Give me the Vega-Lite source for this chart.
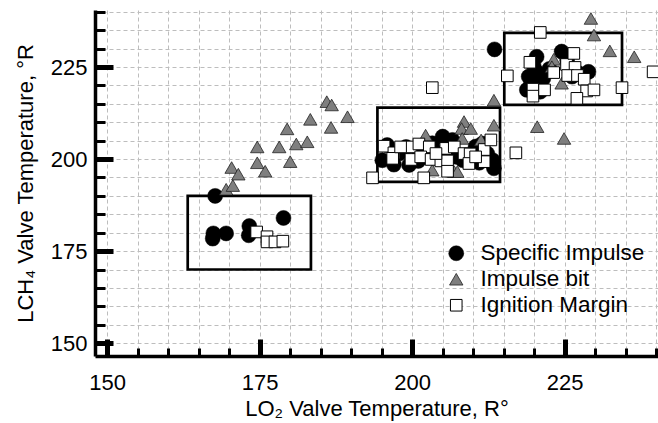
{
  "$schema": "https://vega.github.io/schema/vega-lite/v6.json",
  "width": 563,
  "height": 346,
  "autosize": "none",
  "padding": {"left": 95, "top": 10, "right": 0, "bottom": 67},
  "background": "white",
  "config": {"view": {"stroke": null}, "font": "Liberation Sans"},
  "datasets": {
    "boxes": [
      {"x1": 163.2, "x2": 183.4, "y1": 170, "y2": 190},
      {"x1": 194.3, "x2": 214.4, "y1": 193.8, "y2": 214},
      {"x1": 215.1, "x2": 234.4, "y1": 214.7, "y2": 234.3}
    ],
    "points": [
      {"series": "Specific Impulse", "lo2": 167.7, "lch4": 190.0},
      {"series": "Specific Impulse", "lo2": 167.4, "lch4": 179.8},
      {"series": "Specific Impulse", "lo2": 167.3, "lch4": 178.4},
      {"series": "Specific Impulse", "lo2": 169.5, "lch4": 179.8},
      {"series": "Specific Impulse", "lo2": 173.3, "lch4": 181.8},
      {"series": "Specific Impulse", "lo2": 173.2, "lch4": 179.3},
      {"series": "Specific Impulse", "lo2": 178.9, "lch4": 184.0},
      {"series": "Specific Impulse", "lo2": 195.9, "lch4": 203.8},
      {"series": "Specific Impulse", "lo2": 195.1, "lch4": 199.7},
      {"series": "Specific Impulse", "lo2": 197.9, "lch4": 201.5},
      {"series": "Specific Impulse", "lo2": 199.5, "lch4": 198.4},
      {"series": "Specific Impulse", "lo2": 200.9, "lch4": 202.9},
      {"series": "Specific Impulse", "lo2": 202.2, "lch4": 200.6},
      {"series": "Specific Impulse", "lo2": 203.9, "lch4": 201.5},
      {"series": "Specific Impulse", "lo2": 205.0, "lch4": 206.1},
      {"series": "Specific Impulse", "lo2": 205.5, "lch4": 202.5},
      {"series": "Specific Impulse", "lo2": 206.6, "lch4": 205.2},
      {"series": "Specific Impulse", "lo2": 207.2, "lch4": 200.6},
      {"series": "Specific Impulse", "lo2": 208.3, "lch4": 199.7},
      {"series": "Specific Impulse", "lo2": 210.4, "lch4": 203.4},
      {"series": "Specific Impulse", "lo2": 211.5, "lch4": 204.2},
      {"series": "Specific Impulse", "lo2": 212.3, "lch4": 201.5},
      {"series": "Specific Impulse", "lo2": 213.4, "lch4": 197.5},
      {"series": "Specific Impulse", "lo2": 213.2, "lch4": 199.7},
      {"series": "Specific Impulse", "lo2": 199.0, "lch4": 203.3},
      {"series": "Specific Impulse", "lo2": 203.3, "lch4": 204.3},
      {"series": "Specific Impulse", "lo2": 197.0, "lch4": 198.5},
      {"series": "Specific Impulse", "lo2": 201.0, "lch4": 199.5},
      {"series": "Specific Impulse", "lo2": 209.5, "lch4": 201.0},
      {"series": "Specific Impulse", "lo2": 206.0, "lch4": 203.5},
      {"series": "Specific Impulse", "lo2": 211.0, "lch4": 199.0},
      {"series": "Specific Impulse", "lo2": 213.5, "lch4": 229.8},
      {"series": "Specific Impulse", "lo2": 219.9, "lch4": 225.5},
      {"series": "Specific Impulse", "lo2": 219.1, "lch4": 222.4},
      {"series": "Specific Impulse", "lo2": 221.5, "lch4": 221.9},
      {"series": "Specific Impulse", "lo2": 218.8, "lch4": 218.8},
      {"series": "Specific Impulse", "lo2": 221.0, "lch4": 218.3},
      {"series": "Specific Impulse", "lo2": 220.4, "lch4": 223.7},
      {"series": "Specific Impulse", "lo2": 224.5, "lch4": 229.2},
      {"series": "Specific Impulse", "lo2": 225.4, "lch4": 226.9},
      {"series": "Specific Impulse", "lo2": 227.3, "lch4": 223.3},
      {"series": "Specific Impulse", "lo2": 228.9, "lch4": 223.7},
      {"series": "Specific Impulse", "lo2": 226.2, "lch4": 222.4},
      {"series": "Specific Impulse", "lo2": 220.4, "lch4": 227.8},
      {"series": "Specific Impulse", "lo2": 222.5, "lch4": 224.5},
      {"series": "Specific Impulse", "lo2": 219.5, "lch4": 220.5},
      {"series": "Impulse bit", "lo2": 169.5, "lch4": 191.8},
      {"series": "Impulse bit", "lo2": 170.6, "lch4": 192.8},
      {"series": "Impulse bit", "lo2": 170.4, "lch4": 197.7},
      {"series": "Impulse bit", "lo2": 171.5, "lch4": 195.9},
      {"series": "Impulse bit", "lo2": 174.6, "lch4": 203.3},
      {"series": "Impulse bit", "lo2": 174.6, "lch4": 199.0},
      {"series": "Impulse bit", "lo2": 175.9, "lch4": 196.7},
      {"series": "Impulse bit", "lo2": 178.2, "lch4": 203.3},
      {"series": "Impulse bit", "lo2": 180.0, "lch4": 199.3},
      {"series": "Impulse bit", "lo2": 179.5, "lch4": 208.2},
      {"series": "Impulse bit", "lo2": 181.0, "lch4": 204.1},
      {"series": "Impulse bit", "lo2": 182.8, "lch4": 204.7},
      {"series": "Impulse bit", "lo2": 183.3, "lch4": 210.8},
      {"series": "Impulse bit", "lo2": 186.0, "lch4": 215.6},
      {"series": "Impulse bit", "lo2": 186.8, "lch4": 214.7},
      {"series": "Impulse bit", "lo2": 186.7, "lch4": 208.6},
      {"series": "Impulse bit", "lo2": 189.4, "lch4": 211.5},
      {"series": "Impulse bit", "lo2": 202.2, "lch4": 206.5},
      {"series": "Impulse bit", "lo2": 208.5, "lch4": 210.2},
      {"series": "Impulse bit", "lo2": 208.1, "lch4": 208.3},
      {"series": "Impulse bit", "lo2": 209.6, "lch4": 208.3},
      {"series": "Impulse bit", "lo2": 213.4, "lch4": 209.2},
      {"series": "Impulse bit", "lo2": 213.4, "lch4": 216.0},
      {"series": "Impulse bit", "lo2": 208.2, "lch4": 205.6},
      {"series": "Impulse bit", "lo2": 203.3, "lch4": 197.0},
      {"series": "Impulse bit", "lo2": 206.9, "lch4": 196.6},
      {"series": "Impulse bit", "lo2": 207.4, "lch4": 196.6},
      {"series": "Impulse bit", "lo2": 211.3, "lch4": 205.2},
      {"series": "Impulse bit", "lo2": 220.5, "lch4": 208.8},
      {"series": "Impulse bit", "lo2": 224.9, "lch4": 205.6},
      {"series": "Impulse bit", "lo2": 229.3, "lch4": 238.2},
      {"series": "Impulse bit", "lo2": 229.8, "lch4": 233.7},
      {"series": "Impulse bit", "lo2": 232.4, "lch4": 229.4},
      {"series": "Impulse bit", "lo2": 236.4, "lch4": 227.8},
      {"series": "Impulse bit", "lo2": 223.2, "lch4": 227.1},
      {"series": "Impulse bit", "lo2": 222.9, "lch4": 225.1},
      {"series": "Impulse bit", "lo2": 224.5, "lch4": 220.6},
      {"series": "Ignition Margin", "lo2": 174.5, "lch4": 180.2},
      {"series": "Ignition Margin", "lo2": 176.2, "lch4": 178.9},
      {"series": "Ignition Margin", "lo2": 176.2, "lch4": 177.5},
      {"series": "Ignition Margin", "lo2": 177.5, "lch4": 177.5},
      {"series": "Ignition Margin", "lo2": 178.8, "lch4": 177.7},
      {"series": "Ignition Margin", "lo2": 195.4, "lch4": 203.5},
      {"series": "Ignition Margin", "lo2": 197.0, "lch4": 201.7},
      {"series": "Ignition Margin", "lo2": 199.8, "lch4": 203.3},
      {"series": "Ignition Margin", "lo2": 201.1, "lch4": 204.1},
      {"series": "Ignition Margin", "lo2": 202.8, "lch4": 203.3},
      {"series": "Ignition Margin", "lo2": 205.5, "lch4": 202.9},
      {"series": "Ignition Margin", "lo2": 206.9, "lch4": 203.3},
      {"series": "Ignition Margin", "lo2": 208.5, "lch4": 201.5},
      {"series": "Ignition Margin", "lo2": 209.5, "lch4": 201.4},
      {"series": "Ignition Margin", "lo2": 211.8, "lch4": 202.6},
      {"series": "Ignition Margin", "lo2": 212.9, "lch4": 205.2},
      {"series": "Ignition Margin", "lo2": 196.8, "lch4": 200.2},
      {"series": "Ignition Margin", "lo2": 199.8, "lch4": 199.9},
      {"series": "Ignition Margin", "lo2": 201.4, "lch4": 200.6},
      {"series": "Ignition Margin", "lo2": 203.1, "lch4": 199.9},
      {"series": "Ignition Margin", "lo2": 204.7, "lch4": 199.5},
      {"series": "Ignition Margin", "lo2": 205.8, "lch4": 199.5},
      {"series": "Ignition Margin", "lo2": 209.3, "lch4": 198.8},
      {"series": "Ignition Margin", "lo2": 211.8, "lch4": 199.3},
      {"series": "Ignition Margin", "lo2": 193.5, "lch4": 194.9},
      {"series": "Ignition Margin", "lo2": 201.9, "lch4": 194.9},
      {"series": "Ignition Margin", "lo2": 205.8, "lch4": 196.7},
      {"series": "Ignition Margin", "lo2": 217.0, "lch4": 201.7},
      {"series": "Ignition Margin", "lo2": 203.3, "lch4": 219.4},
      {"series": "Ignition Margin", "lo2": 198.1, "lch4": 203.3},
      {"series": "Ignition Margin", "lo2": 203.9, "lch4": 201.5},
      {"series": "Ignition Margin", "lo2": 210.4, "lch4": 200.6},
      {"series": "Ignition Margin", "lo2": 221.0, "lch4": 234.4},
      {"series": "Ignition Margin", "lo2": 215.6, "lch4": 222.6},
      {"series": "Ignition Margin", "lo2": 219.3, "lch4": 226.3},
      {"series": "Ignition Margin", "lo2": 219.8, "lch4": 219.0},
      {"series": "Ignition Margin", "lo2": 219.8, "lch4": 217.1},
      {"series": "Ignition Margin", "lo2": 221.7, "lch4": 218.8},
      {"series": "Ignition Margin", "lo2": 223.2, "lch4": 223.5},
      {"series": "Ignition Margin", "lo2": 225.3, "lch4": 225.7},
      {"series": "Ignition Margin", "lo2": 226.5, "lch4": 228.7},
      {"series": "Ignition Margin", "lo2": 226.7, "lch4": 224.9},
      {"series": "Ignition Margin", "lo2": 225.5, "lch4": 222.7},
      {"series": "Ignition Margin", "lo2": 227.1, "lch4": 222.7},
      {"series": "Ignition Margin", "lo2": 228.2, "lch4": 221.7},
      {"series": "Ignition Margin", "lo2": 228.6, "lch4": 218.5},
      {"series": "Ignition Margin", "lo2": 229.8, "lch4": 218.8},
      {"series": "Ignition Margin", "lo2": 227.0, "lch4": 216.5},
      {"series": "Ignition Margin", "lo2": 234.4, "lch4": 219.4},
      {"series": "Ignition Margin", "lo2": 239.5, "lch4": 223.7}
    ]
  },
  "layer": [
    {
      "data": {"name": "boxes"},
      "mark": {"type": "rect", "fill": "transparent", "stroke": "black", "strokeWidth": 2.7},
      "encoding": {
        "x": {
          "field": "x1", "type": "quantitative",
          "scale": {"domain": [148, 240.3], "nice": false, "zero": false},
          "axis": {
            "orient": "bottom", "title": null, "labels": false, "domain": false,
            "values": [150,155,160,165,170,175,180,185,190,195,200,205,210,215,220,225,230,235,240],
            "tickSize": -8, "tickWidth": 3, "tickColor": "black",
            "grid": true, "gridDash": [4, 3], "gridColor": "#bdbdbd", "gridWidth": 1
          }
        },
        "x2": {"field": "x2"},
        "y": {
          "field": "y1", "type": "quantitative",
          "scale": {"domain": [146.5, 240.5], "nice": false, "zero": false},
          "axis": {
            "orient": "left", "title": null, "labels": false, "domain": false,
            "values": [150,155,160,165,170,175,180,185,190,195,200,205,210,215,220,225,230,235,240],
            "tickSize": -10, "tickWidth": 3, "tickColor": "black",
            "grid": true, "gridDash": [4, 3], "gridColor": "#bdbdbd", "gridWidth": 1
          }
        },
        "y2": {"field": "y2"}
      }
    },
    {
      "data": {"name": "points"},
      "mark": {"type": "point", "filled": true, "opacity": 1},
      "encoding": {
        "x": {
          "field": "lo2", "type": "quantitative",
          "axis": {
            "orient": "bottom", "title": "LO₂ Valve Temperature, R°",
            "values": [150, 175, 200, 225], "grid": false,
            "domain": true, "domainColor": "black", "domainWidth": 3.5,
            "tickSize": -17, "tickWidth": 5, "tickColor": "black",
            "labelFontSize": 22, "labelColor": "black", "labelPadding": 33, "labelFont": "Liberation Sans",
            "titleFontSize": 22, "titleFontWeight": "normal", "titleColor": "black", "titlePadding": 5, "titleFont": "Liberation Sans"
          }
        },
        "y": {
          "field": "lch4", "type": "quantitative",
          "axis": {
            "orient": "left", "title": "LCH₄ Valve Temperature, °R",
            "values": [150, 175, 200, 225], "grid": false,
            "domain": true, "domainColor": "black", "domainWidth": 3.5,
            "tickSize": -18, "tickWidth": 5, "tickColor": "black",
            "labelFontSize": 22, "labelColor": "black", "labelPadding": 26, "labelFont": "Liberation Sans",
            "titleFontSize": 22, "titleFontWeight": "normal", "titleColor": "black", "titlePadding": 13, "titleFont": "Liberation Sans"
          }
        },
        "shape": {
          "field": "series", "type": "nominal",
          "scale": {"domain": ["Specific Impulse", "Impulse bit", "Ignition Margin"], "range": ["circle", "triangle-up", "square"]},
          "legend": {
            "orient": "none", "legendX": 350, "legendY": 232, "title": null,
            "labelFontSize": 22.5, "labelFont": "Liberation Sans", "labelColor": "black",
            "labelLimit": 400, "rowPadding": 3, "labelOffset": 13
          }
        },
        "fill": {
          "field": "series", "type": "nominal",
          "scale": {"domain": ["Specific Impulse", "Impulse bit", "Ignition Margin"], "range": ["black", "#7f7f7f", "white"]}
        },
        "stroke": {
          "field": "series", "type": "nominal",
          "scale": {"domain": ["Specific Impulse", "Impulse bit", "Ignition Margin"], "range": ["black", "#1a1a1a", "black"]}
        },
        "strokeWidth": {
          "field": "series", "type": "nominal",
          "scale": {"domain": ["Specific Impulse", "Impulse bit", "Ignition Margin"], "range": [0.5, 1, 2.2]}
        },
        "size": {
          "field": "series", "type": "nominal",
          "scale": {"domain": ["Specific Impulse", "Impulse bit", "Ignition Margin"], "range": [225, 135, 72]}
        }
      }
    }
  ],
  "resolve": {"axis": {"x": "independent", "y": "independent"}}
}
